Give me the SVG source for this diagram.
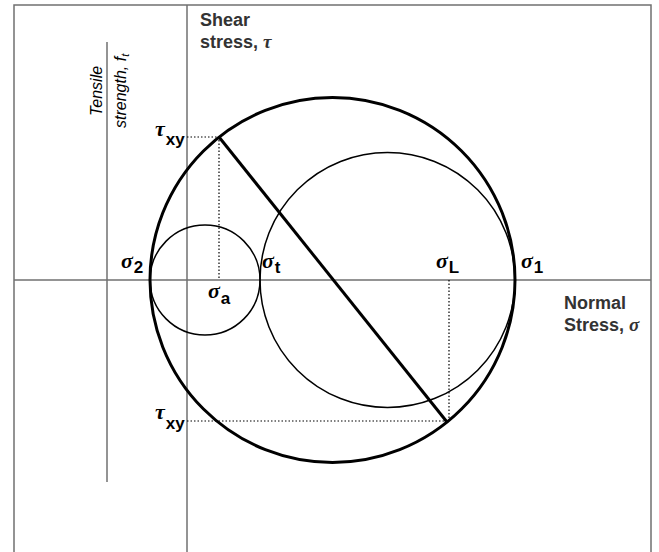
<svg xmlns="http://www.w3.org/2000/svg" width="659" height="552" viewBox="0 0 659 552">
<style>
.ax{stroke:#707070;stroke-width:1.5;fill:none}
.thin{stroke:#000;stroke-width:1.5;fill:none}
.thick{stroke:#000;stroke-width:3;fill:none}
.dot{stroke:#000;stroke-width:1.2;stroke-dasharray:1.5 2;fill:none}
.g{font-family:"Liberation Serif",serif;font-style:italic;font-weight:bold;font-size:22px;fill:#000}
.s{font-family:"Liberation Sans",Arial,sans-serif;font-weight:bold;font-size:17px;fill:#000}
.t{font-family:"Liberation Sans",Arial,sans-serif;font-weight:bold;font-size:18px;fill:#333}
.it{font-family:"Liberation Sans",Arial,sans-serif;font-style:italic;font-size:16px;fill:#000}
</style>
<rect width="659" height="552" fill="#fff"/>
<g id="frame">
<path class="ax" d="M14,552 V5 H651 V552"/>
</g>
<g id="axes">
<line class="ax" x1="187" y1="5" x2="187" y2="552"/>
<line class="ax" x1="14" y1="280" x2="651" y2="280"/>
<line class="ax" x1="107" y1="42" x2="107" y2="482"/>
</g>
<g id="circles">
<circle id="bigCircle" class="thick" cx="332.5" cy="280" r="182.5"/>
<circle id="smallCircle" class="thin" cx="205" cy="280" r="55"/>
<circle id="midCircle" class="thin" cx="387.5" cy="280" r="127.5"/>
</g>
<g id="connectors">
<line class="thick" x1="219" y1="137" x2="447" y2="422"/>
<polyline class="dot" points="187,137 219,137 219,280"/>
<polyline class="dot" points="187,421 447,421"/>
<line class="dot" x1="449" y1="280" x2="449" y2="421"/>
</g>
<g id="labels">
<text class="t" x="200" y="26">Shear</text>
<text class="t" x="200" y="48">stress, <tspan font-family="Liberation Serif, serif" font-style="italic" font-size="19">τ</tspan></text>
<text class="t" x="564" y="309">Normal</text>
<text class="t" x="564" y="331">Stress, <tspan font-family="Liberation Serif, serif" font-style="italic" font-size="19">σ</tspan></text>
<text class="it" transform="translate(102,116) rotate(-90)">Tensile</text>
<text class="it" transform="translate(126,128) rotate(-90)">strength, f<tspan font-size="11" dy="3">t</tspan></text>
<text x="155" y="136"><tspan class="g">τ</tspan><tspan class="s" dx="1" dy="9">xy</tspan></text>
<text x="155" y="419"><tspan class="g">τ</tspan><tspan class="s" dx="1" dy="10">xy</tspan></text>
<text x="121" y="268"><tspan class="g">σ</tspan><tspan class="s" dx="1" dy="5">2</tspan></text>
<text x="262" y="268"><tspan class="g">σ</tspan><tspan class="s" dx="1" dy="5">t</tspan></text>
<text x="208" y="298"><tspan class="g">σ</tspan><tspan class="s" dx="1" dy="6">a</tspan></text>
<text x="436" y="268"><tspan class="g">σ</tspan><tspan class="s" dx="1" dy="5">L</tspan></text>
<text x="521" y="268"><tspan class="g">σ</tspan><tspan class="s" dx="1" dy="5">1</tspan></text>
</g>
</svg>
